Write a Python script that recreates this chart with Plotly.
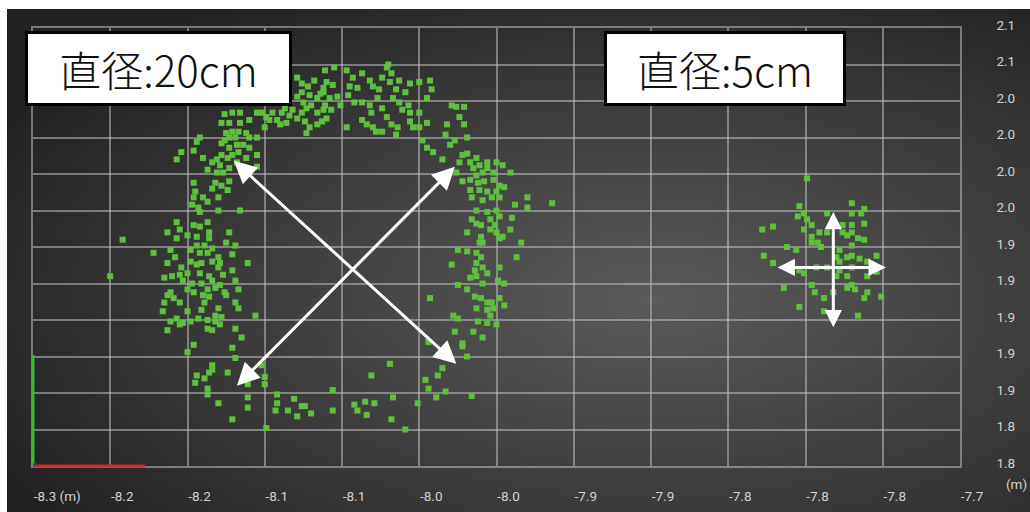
import base64
import plotly.graph_objects as go

# ---- tick layout (metres) ----
x_tick_vals = [-8.30, -8.25, -8.20, -8.15, -8.10, -8.05, -8.00, -7.95, -7.90, -7.85, -7.80, -7.75, -7.70]
x_tick_text = ["-8.3 (m)", "-8.2", "-8.2", "-8.1", "-8.1", "-8.0", "-8.0", "-7.9", "-7.9", "-7.8", "-7.8", "-7.8", "-7.7"]
y_tick_vals = [1.800, 1.825, 1.850, 1.875, 1.900, 1.925, 1.950, 1.975, 2.000, 2.025, 2.050, 2.075, 2.100]
y_tick_text = ["1.8", "1.8", "1.9", "1.9", "1.9", "1.9", "1.9", "2.0", "2.0", "2.0", "2.0", "2.1", "2.1"]

# ---- point cloud: 20 cm pipe (ring) ----
ring_x = [
    -8.171, -8.166, -8.176, -8.178, -8.173, -8.166, -8.160, -8.155, -8.152, -8.149,
    -8.145, -8.142, -8.139, -8.137, -8.134, -8.132, -8.129, -8.126, -8.123, -8.120,
    -8.116, -8.114, -8.112, -8.110, -8.111, -8.118, -8.122, -8.126, -8.129, -8.125,
    -8.121, -8.116, -8.112, -8.129, -8.126, -8.124, -8.121, -8.116, -8.113, -8.123,
    -8.136, -8.140, -8.147, -8.150, -8.171, -8.167, -8.162, -8.175, -8.173, -8.169,
    -8.176, -8.178, -8.173, -8.168, -8.164, -8.160, -8.155, -8.160, -8.167, -8.171,
    -8.174, -8.178, -8.181, -8.184, -8.179, -8.173, -8.168, -8.162, -8.155, -8.155,
    -8.192, -8.194, -8.196, -8.204, -8.207, -8.190, -8.187, -8.181, -8.177, -8.173,
    -8.178, -8.182, -8.184, -8.196, -8.195, -8.174, -8.187,
    # top arc, right half
    -8.105, -8.106, -8.112, -8.108, -8.103, -8.111, -8.107, -8.110, -8.101, -8.097,
    -8.093, -8.095, -8.090, -8.096, -8.092, -8.097, -8.087, -8.082, -8.080, -8.087,
    -8.082, -8.081, -8.087, -8.084, -8.080, -8.078, -8.074, -8.071, -8.074, -8.077,
    -8.076, -8.074, -8.071, -8.070, -8.068, -8.069, -8.063, -8.056, -8.065, -8.059,
    -8.067, -8.063, -8.057, -8.061, -8.056, -8.068, -8.064, -8.065, -8.056, -8.050,
    -8.043, -8.042, -8.045, -8.050, -8.045, -8.054, -8.050, -8.048, -8.045, -8.041,
    -8.035, -8.032, -8.033, -8.029, -8.026, -8.021, -8.024, -8.021, -8.019, -8.027,
    -8.030, -8.022, -8.019, -8.024, -8.017, -8.013, -8.015, -8.011, -8.006, -8.026,
    -8.013, -8.009, -8.006, -8.002, -8.000,
    # left side
    -8.196, -8.190, -8.180, -8.197, -8.193, -8.192, -8.180, -8.166, -8.207, -8.196,
    -8.192, -8.187, -8.213, -8.205, -8.207, -8.200, -8.194, -8.186, -8.186, -8.173,
    -8.175, -8.169, -8.242, -8.222, -8.211, -8.208, -8.198, -8.194, -8.189, -8.184,
    -8.192, -8.187, -8.180, -8.171, -8.213, -8.204, -8.198, -8.194, -8.191, -8.184,
    -8.179, -8.171, -8.161, -8.250, -8.215, -8.210, -8.205, -8.200, -8.192, -8.186,
    -8.180, -8.177, -8.203, -8.197, -8.191, -8.184, -8.179, -8.169, -8.211, -8.200,
    -8.196, -8.187, -8.182, -8.176, -8.167, -8.213, -8.209, -8.215, -8.205, -8.190,
    -8.186, -8.189, -8.175, -8.169, -8.167, -8.216, -8.200, -8.191, -8.180, -8.182,
    -8.178, -8.156, -8.211, -8.207, -8.203, -8.198, -8.193, -8.187, -8.182, -8.213,
    -8.205, -8.187, -8.184, -8.179, -8.169, -8.165, -8.196, -8.200, -8.171, -8.169,
    -8.184, -8.184, -8.194, -8.189, -8.186, -8.174, -8.195, -8.187, -8.187, -8.180,
    -8.161, -8.161, -8.161, -8.150, -8.150, -8.152, -8.171, -8.149,
    # right side
    -7.996, -7.991, -8.022, -8.017, -8.012, -8.008, -8.002, -7.998, -7.995, -8.017,
    -8.011, -8.006, -8.000, -8.016, -8.009, -8.003, -7.998, -7.988, -7.980, -7.980,
    -7.964, -8.013, -8.006, -8.000, -7.998, -8.016, -8.013, -8.010, -8.004, -8.001,
    -7.990, -7.991, -8.019, -8.004, -8.000, -8.010, -7.998, -7.996, -8.011, -8.009,
    -7.984, -8.025, -8.019, -8.013, -8.010, -7.987, -8.029, -8.013, -8.009, -8.014,
    -8.006, -7.998, -8.017, -8.013, -8.009, -7.999, -7.995, -8.025, -8.019, -8.043,
    -8.014, -8.010, -8.006, -8.003, -7.998, -7.995, -8.013, -8.006, -8.002, -8.004,
    -8.028, -8.025, -8.012, -8.006, -8.000, -8.027, -8.015, -8.022, -8.022, -8.044,
    -8.009, -8.019, -8.035, -8.038, -8.046,
    # bottom arc
    -8.142, -8.142, -8.143, -8.135, -8.131, -8.126, -8.124, -8.129, -8.120, -8.106,
    -8.106, -8.092, -8.090, -8.085, -8.079, -8.084, -8.081, -8.069, -8.067, -8.068,
    -8.059, -8.051, -8.044, -8.039, -8.033, -8.016,
]
ring_y = [
    2.042, 2.042, 2.041, 2.035, 2.035, 2.035, 2.037, 2.042, 2.042, 2.039,
    2.042, 2.037, 2.042, 2.045, 2.040, 2.044, 2.038, 2.042, 2.045, 2.047,
    2.052, 2.055, 2.059, 2.063, 2.071, 2.064, 2.060, 2.056, 2.053, 2.049,
    2.054, 2.042, 2.044, 2.066, 2.062, 2.036, 2.032, 2.034, 2.036, 2.028,
    2.035, 2.034, 2.037, 2.032, 2.029, 2.029, 2.028, 2.028, 2.025, 2.025,
    2.023, 2.021, 2.018, 2.020, 2.020, 2.025, 2.025, 2.018, 2.015, 2.013,
    2.011, 2.013, 2.010, 2.008, 2.006, 2.004, 2.008, 2.011, 2.013, 2.005,
    2.025, 2.022, 2.016, 2.015, 2.010, 2.011, 2.003, 2.001, 2.001, 1.995,
    1.992, 1.994, 1.990, 1.994, 1.988, 1.989, 1.981,
    # top arc, right half
    2.073, 2.061, 2.056, 2.052, 2.053, 2.047, 2.044, 2.038, 2.047, 2.071,
    2.066, 2.060, 2.059, 2.054, 2.049, 2.032, 2.069, 2.064, 2.060, 2.049,
    2.047, 2.042, 2.037, 2.034, 2.032, 2.029, 2.029, 2.039, 2.045, 2.052,
    2.058, 2.066, 2.073, 2.075, 2.069, 2.063, 2.064, 2.062, 2.058, 2.056,
    2.052, 2.049, 2.047, 2.044, 2.042, 2.034, 2.032, 2.027, 2.036, 2.063,
    2.064, 2.058, 2.052, 2.042, 2.035, 2.032, 2.032, 2.023, 2.018, 2.015,
    2.010, 2.034, 2.027, 2.047, 2.046, 2.046, 2.039, 2.034, 2.025, 2.023,
    2.020, 2.013, 2.014, 2.008, 2.008, 2.011, 2.004, 2.006, 2.008, 2.001,
    1.999, 2.001, 2.004, 2.001, 2.008,
    # left side
    1.984, 1.984, 1.984, 1.979, 1.977, 1.974, 1.975, 1.975, 1.967, 1.965,
    1.964, 1.967, 1.960, 1.962, 1.956, 1.958, 1.957, 1.960, 1.956, 1.960,
    1.953, 1.951, 1.955, 1.946, 1.948, 1.943, 1.948, 1.951, 1.951, 1.949,
    1.946, 1.946, 1.943, 1.945, 1.939, 1.936, 1.940, 1.938, 1.939, 1.940,
    1.939, 1.934, 1.939, 1.930, 1.929, 1.930, 1.931, 1.932, 1.932, 1.930,
    1.936, 1.931, 1.927, 1.925, 1.925, 1.927, 1.924, 1.927, 1.919, 1.921,
    1.919, 1.921, 1.922, 1.919, 1.921, 1.917, 1.915, 1.912, 1.912, 1.917,
    1.916, 1.912, 1.917, 1.912, 1.908, 1.906, 1.906, 1.907, 1.908, 1.903,
    1.902, 1.903, 1.899, 1.901, 1.898, 1.899, 1.901, 1.900, 1.899, 1.893,
    1.897, 1.894, 1.893, 1.897, 1.894, 1.888, 1.883, 1.878, 1.881, 1.874,
    1.869, 1.866, 1.862, 1.860, 1.864, 1.864, 1.857, 1.853, 1.849, 1.843,
    1.856, 1.847, 1.840, 1.856, 1.861, 1.869, 1.832, 1.826,
    # right side
    2.006, 2.001, 1.995, 1.996, 1.994, 1.995, 1.996, 1.992, 1.991, 1.989,
    1.989, 1.988, 1.988, 1.984, 1.982, 1.984, 1.984, 1.979, 1.984, 1.977,
    1.980, 1.975, 1.974, 1.975, 1.971, 1.969, 1.966, 1.965, 1.969, 1.965,
    1.970, 1.962, 1.960, 1.962, 1.960, 1.957, 1.956, 1.957, 1.953, 1.953,
    1.953, 1.948, 1.947, 1.946, 1.943, 1.943, 1.938, 1.939, 1.936, 1.934,
    1.932, 1.936, 1.929, 1.930, 1.925, 1.927, 1.925, 1.924, 1.921, 1.915,
    1.916, 1.915, 1.912, 1.912, 1.915, 1.910, 1.908, 1.907, 1.908, 1.903,
    1.903, 1.901, 1.899, 1.898, 1.897, 1.892, 1.892, 1.884, 1.882, 1.885,
    1.888, 1.875, 1.867, 1.862, 1.859,
    # bottom arc
    1.849, 1.843, 1.838, 1.838, 1.846, 1.841, 1.841, 1.834, 1.836, 1.852,
    1.838, 1.842, 1.838, 1.844, 1.843, 1.835, 1.862, 1.870, 1.847, 1.832,
    1.825, 1.843, 1.853, 1.847, 1.851, 1.848,
]

# ---- point cloud: 5 cm pipe ----
spot_x = [
    -7.799, -7.804, -7.805, -7.801, -7.770, -7.762, -7.770, -7.764, -7.786, -7.799,
    -7.796, -7.821, -7.828, -7.801, -7.791, -7.786, -7.776, -7.770, -7.762, -7.776,
    -7.773, -7.770, -7.766, -7.762, -7.796, -7.796, -7.792, -7.790, -7.812, -7.806,
    -7.778, -7.770, -7.827, -7.821, -7.780, -7.773, -7.770, -7.765, -7.754, -7.760,
    -7.778, -7.804, -7.801, -7.793, -7.786, -7.778, -7.770, -7.760, -7.754, -7.773,
    -7.780, -7.796, -7.814, -7.794, -7.773, -7.770, -7.768, -7.760, -7.751, -7.788,
    -7.762, -7.804, -7.788, -7.766, -7.782,
]
spot_y = [
    1.997, 1.978, 1.971, 1.973, 1.980, 1.976, 1.973, 1.973, 1.973, 1.969,
    1.965, 1.964, 1.962, 1.962, 1.960, 1.960, 1.965, 1.965, 1.966, 1.960,
    1.958, 1.960, 1.956, 1.955, 1.957, 1.953, 1.953, 1.950, 1.950, 1.948,
    1.948, 1.951, 1.944, 1.939, 1.943, 1.943, 1.944, 1.942, 1.944, 1.940,
    1.940, 1.934, 1.932, 1.936, 1.936, 1.934, 1.936, 1.930, 1.933, 1.930,
    1.930, 1.924, 1.922, 1.919, 1.922, 1.924, 1.921, 1.919, 1.916, 1.915,
    1.915, 1.909, 1.906, 1.903, 1.919,
]

# ---- diameter arrows: (tail x, tail y, head x, head y) ----
big_arrows = [
    (-8.171, 2.010, -8.026, 1.870),
    (-8.026, 2.006, -8.168, 1.855),
]
small_arrows = [
    (-7.782, 1.975, -7.782, 1.895),
    (-7.819, 1.936, -7.748, 1.936),
]

labels = ["直径:20cm", "直径:5cm"]

POINT_GREEN = "#5fc03e"
GRID = "rgba(190,190,190,0.55)"
TICK_FONT = dict(family="Roboto, Liberation Sans, sans-serif", size=13.5, color="#d2d2d2")

W, H = 1030, 512
ML, MR, MT, MB = 33, 70, 28, 46
PW, PH = W - ML - MR, H - MT - MB


def px_to_paper(px, py):
    return (px - ML) / PW, (H - MB - py) / PH


# dark viewport background with a soft radial glow
bg_w, bg_h = W - 7, H - 9
svg = (
    f'<svg xmlns="http://www.w3.org/2000/svg" width="{bg_w}" height="{bg_h}" '
    f'viewBox="0 0 {bg_w} {bg_h}" preserveAspectRatio="none">'
    '<defs><radialGradient id="g" cx="0.63" cy="0.58" r="0.72">'
    '<stop offset="0" stop-color="#5a5a5a"/>'
    '<stop offset="0.55" stop-color="#3c3c3c"/>'
    '<stop offset="1" stop-color="#222222"/>'
    '</radialGradient></defs>'
    f'<rect width="{bg_w}" height="{bg_h}" fill="url(#g)"/></svg>'
)
bg_uri = "data:image/svg+xml;base64," + base64.b64encode(svg.encode()).decode()
bx0, by0 = px_to_paper(7, 9)
bx1, by1 = px_to_paper(W, H)

fig = go.Figure()
for xs, ys in ((ring_x, ring_y), (spot_x, spot_y)):
    fig.add_trace(go.Scatter(
        x=xs, y=ys, mode="markers", hoverinfo="skip",
        marker=dict(symbol="square", size=6, color=POINT_GREEN, line=dict(width=0)),
    ))

annotations = []
for arrows, size in ((big_arrows, 1.5), (small_arrows, 1.15)):
    for tx, ty, hx, hy in arrows:
        annotations.append(dict(
            x=hx, y=hy, ax=tx, ay=ty, xref="x", yref="y", axref="x", ayref="y",
            text="", showarrow=True, arrowside="end+start",
            arrowhead=2, startarrowhead=2, arrowsize=size, startarrowsize=size,
            arrowwidth=3, arrowcolor="white", standoff=0, startstandoff=0,
        ))

# label boxes
for (left_px, right_px), txt in zip(((25, 292), (604, 846)), labels):
    lx, ty = px_to_paper(left_px, 31)
    annotations.append(dict(
        x=lx, y=ty, xref="paper", yref="paper", xanchor="left", yanchor="top",
        text=txt, showarrow=False, align="center",
        width=right_px - left_px - 6, height=69,
        bgcolor="white", bordercolor="black", borderwidth=3, borderpad=0,
        font=dict(family="Noto Sans CJK JP", size=42, weight=300, color="#111111"),
    ))

mx, my = px_to_paper(1016, 484)
annotations.append(dict(
    x=mx, y=my, xref="paper", yref="paper", xanchor="center", yanchor="middle",
    text="(m)", showarrow=False,
    font=dict(family="Roboto, sans-serif", size=13.5, color="#d2d2d2"),
))

# little coordinate gizmo at the lower-left corner
gx1, _ = px_to_paper(145, 466)
_, gy1 = px_to_paper(33, 355)
bdx, bdy = px_to_paper(36, 463)
shapes = [
    dict(type="line", xref="paper", yref="paper", x0=0, x1=0, y0=0, y1=gy1,
         line=dict(color="#3fb43f", width=3)),
    dict(type="line", xref="paper", yref="paper", x0=0, x1=gx1, y0=0, y1=0,
         line=dict(color="#d12b2b", width=3)),
    dict(type="rect", xref="paper", yref="paper", x0=0, x1=bdx, y0=0, y1=bdy,
         fillcolor="#2a44c8", line=dict(width=0)),
]

fig.update_layout(
    width=W, height=H,
    margin=dict(l=ML, r=MR, t=MT, b=MB, pad=0, autoexpand=False),
    paper_bgcolor="white", plot_bgcolor="rgba(0,0,0,0)",
    showlegend=False,
    images=[dict(source=bg_uri, xref="paper", yref="paper", x=bx0, y=by0,
                 sizex=bx1 - bx0, sizey=by0 - by1, xanchor="left", yanchor="top",
                 sizing="stretch", layer="below")],
    annotations=annotations, shapes=shapes,
    xaxis=dict(
        range=[-8.3, -7.7], tickvals=x_tick_vals, ticktext=x_tick_text,
        showgrid=True, gridcolor=GRID, gridwidth=1.5, zeroline=False,
        showline=True, linecolor=GRID, linewidth=1.5, mirror=True,
        ticks="", ticklabelposition="outside right", ticklabelstandoff=17,
        tickfont=TICK_FONT, fixedrange=True, automargin=False,
    ),
    yaxis=dict(
        range=[1.8, 2.1], tickvals=y_tick_vals, ticktext=y_tick_text, side="right",
        showgrid=True, gridcolor=GRID, gridwidth=1.5, zeroline=False,
        showline=True, linecolor=GRID, linewidth=1.5, mirror=True,
        ticks="", ticklabelstandoff=32, ticklabelshift=-3,
        tickfont=TICK_FONT, fixedrange=True, automargin=False,
    ),
)

fig.write_html("out.html")
